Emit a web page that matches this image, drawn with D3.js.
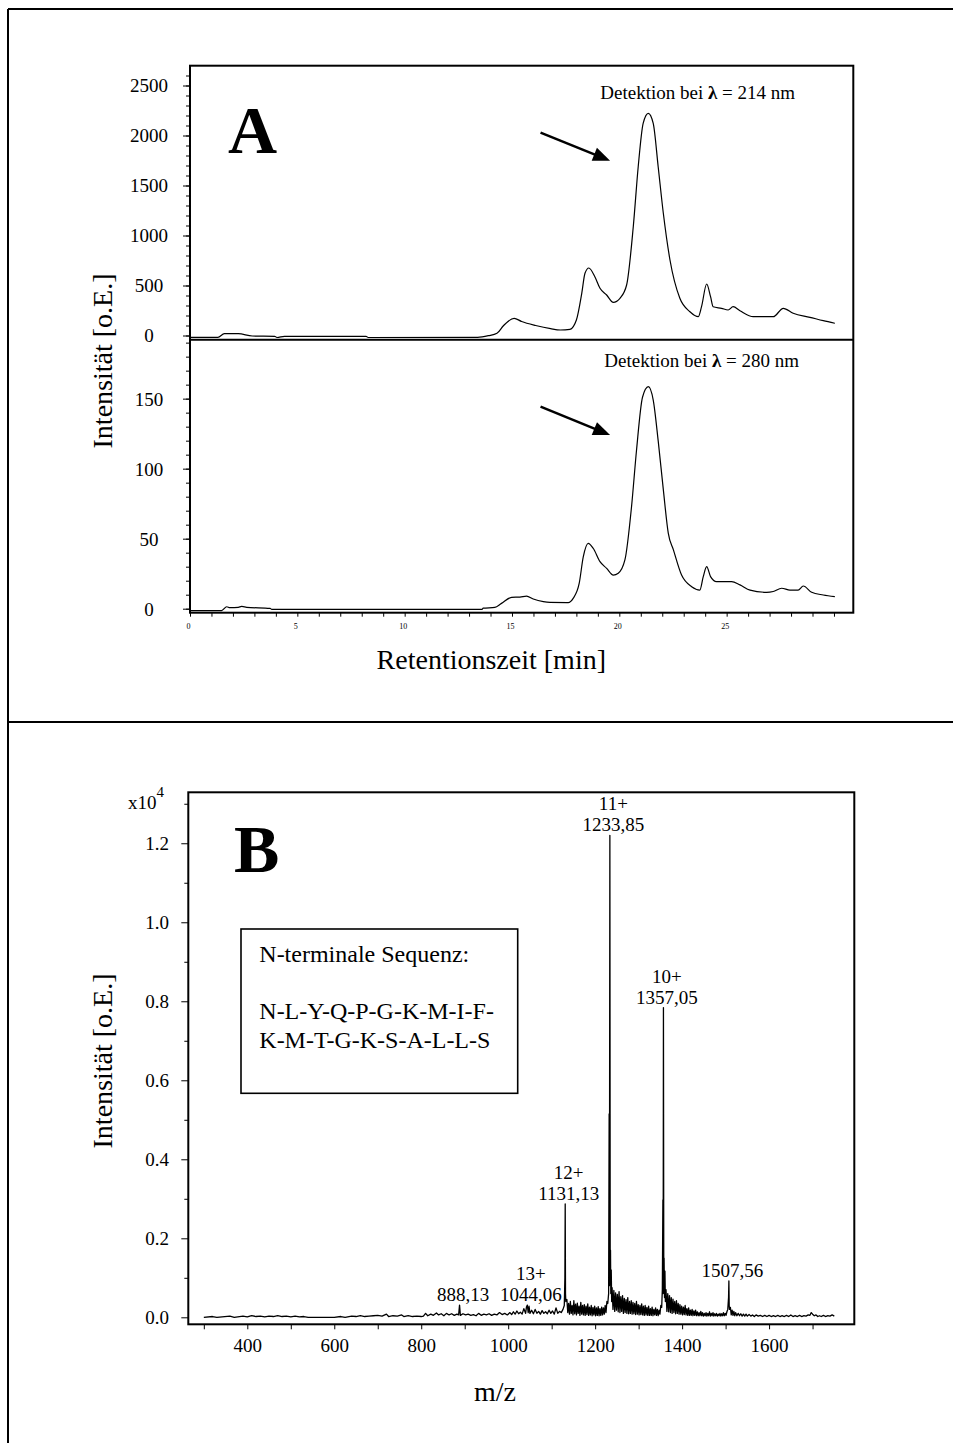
<!DOCTYPE html>
<html>
<head>
<meta charset="utf-8">
<script src="https://cdn.jsdelivr.net/npm/d3@7"></script>
<style>
body { margin: 0; background: #fff; }
svg { display: block; font-family: "Liberation Serif", "Times New Roman", serif; }
</style>
</head>
<body>
<svg id="chart" width="953" height="1443"></svg>
<script>
// ---- data: HPLC chromatogram (time [min], intensity) ----
const chrom214 = [
  [0.0,-18],[1.3,-18],[1.6,18],[2.25,18],[2.9,-5],[3.95,-8],[4.05,-20],[4.4,-8],[8.2,-8],[8.3,-20],
  [13.4,-18],[13.9,-2],[14.3,22],[14.6,98],[15.1,172],[15.45,140],[16.1,100],[16.8,68],[17.25,55],
  [17.7,62],[18.0,155],[18.25,422],[18.4,622],[18.58,675],[18.86,588],[19.1,472],[19.41,405],
  [19.72,332],[20.03,372],[20.34,505],[20.65,1088],[20.88,1688],[21.11,2122],[21.35,2222],
  [21.58,2122],[21.81,1688],[22.05,1222],[22.36,755],[22.82,372],[23.29,238],[23.68,188],
  [23.83,288],[24.07,515],[24.25,388],[24.37,288],[24.76,272],[25.07,255],[25.3,288],[25.62,248],
  [26.24,188],[27.17,188],[27.64,272],[28.1,222],[28.88,182],[29.5,148],[30.04,122]
];
const chrom280 = [
  [0,-1.4],[1.47,-1.4],[1.71,1.4],[1.86,0.7],[2.25,1],[2.41,1.6],[2.64,1],[3.73,0.2],[3.81,-0.5],
  [13.59,-0.5],[13.66,0.4],[14.2,0.9],[14.51,3.8],[14.98,8.1],[15.37,8.3],[15.68,9],[15.99,6.9],
  [16.46,5],[16.77,4.5],[17.62,4.4],[17.85,7.4],[18.13,18],[18.32,37],[18.55,46.7],[18.79,43],
  [19.1,33.6],[19.41,28.8],[19.72,24],[19.95,25.3],[20.26,34.8],[20.57,73],[20.8,113],[21.08,151],
  [21.35,158.6],[21.58,149],[21.81,120],[22.05,85],[22.28,54],[22.52,42],[22.9,24],[23.37,15.7],
  [23.75,13.3],[23.91,22.9],[24.07,30],[24.25,22.9],[24.53,19.3],[25.23,19.3],[25.62,17],
  [26.09,13.3],[26.86,11.7],[27.17,12.3],[27.56,14.6],[27.95,13.3],[28.33,13.3],[28.57,16.2],
  [28.96,11.7],[29.5,9.8],[30.04,8.6]
];
// arrows pointing at the main peak: [start, end] in (min, intensity)
const arrow214 = [[16.33, 2028], [19.57, 1748]];
const arrow280 = [[16.33, 144.3], [19.57, 124]];

// ---- data: ESI mass spectrum (m/z, intensity x10^4) ----
const msLow = [
  [300,0],[320,0.002],[330,0],[360,0.003],[370,0],[390,0.003],[400,0.001],[410,0.004],[420,0.002],
  [430,0.003],[440,0.001],[450,0.003],[460,0.002],[470,0.004],[480,0.002],[490,0.003],[500,0.001],
  [510,0.003],[520,0.001],[530,0.002],[540,0],[600,0],[615,0.002],[625,0],[640,0.003],[650,0.002],
  [660,0.004],[670,0.002],[680,0.003],[690,0.004],[700,0.005],[710,0.003],[720,0.008],[725,0.002],
  [735,0.004],[745,0.003],[755,0.006],[760,0.002],[770,0.004],[780,0.002],[790,0.003],[800,0.002]
];
const msMid = [
  [805,0.003],[810,0.010],[815,0.004],[822,0.008],[828,0.005],[835,0.011],[840,0.006],[846,0.009],
  [852,0.004],[858,0.010],[864,0.006],[870,0.009],[876,0.005],[882,0.008],[886,0.006],[888.13,0.031],
  [890,0.005],[896,0.009],[902,0.006],[908,0.008],[914,0.005],[920,0.007],[926,0.004],[932,0.010],
  [938,0.005],[944,0.008],[950,0.006],[956,0.009],[962,0.005],[968,0.008],[974,0.006],[980,0.012],
  [986,0.007],[992,0.010],[998,0.006],[1004,0.012],[1008,0.007],[1012,0.014],[1016,0.008],
  [1020,0.016],[1024,0.009],[1028,0.013],[1032,0.008],[1036,0.022],[1040,0.010],[1042,0.026],
  [1044.06,0.031],[1046,0.012],[1048,0.028],[1050,0.010],[1054,0.018],[1058,0.009],[1062,0.020],
  [1066,0.010],[1070,0.015],[1074,0.008],[1078,0.017],[1082,0.010],[1086,0.014],[1090,0.009],
  [1094,0.018],[1098,0.010],[1102,0.016],[1106,0.008],[1110,0.024],[1114,0.010],[1118,0.015],
  [1122,0.012],[1126,0.020],[1129,0.030]
];
const msPeak12 = [[1130.4,0.10],[1131.13,0.287],[1131.8,0.06],[1132.5,0.04]];
const msBand1 = [
  [1135,0.045],[1137,0.012],[1139,0.035],[1141,0.008],[1143,0.040],[1145,0.010],[1147,0.030],
  [1149,0.006],[1151,0.042],[1153,0.009],[1155,0.033],[1157,0.006],[1159,0.036],[1161,0.010],
  [1163,0.028],[1165,0.005],[1167,0.038],[1169,0.008],[1171,0.030],[1173,0.006],[1175,0.032],
  [1177,0.005],[1179,0.028],[1181,0.007],[1183,0.034],[1185,0.005],[1187,0.026],[1189,0.006],
  [1191,0.030],[1193,0.004],[1195,0.025],[1197,0.006],[1199,0.028],[1201,0.004],[1203,0.024],
  [1205,0.005],[1207,0.027],[1209,0.004],[1211,0.022],[1213,0.005],[1215,0.026],[1217,0.006],
  [1219,0.024],[1221,0.008],[1223,0.030],[1225,0.012],[1227,0.040],[1229,0.035],[1231,0.06]
];
const msPeak11 = [[1232.2,0.515],[1232.8,0.08],[1233.85,1.22],[1234.6,0.15],[1235.3,0.17],[1236,0.06],[1237,0.12],[1238,0.04]];
const msBand2 = [
  [1239,0.075],[1241,0.02],[1243,0.068],[1245,0.015],[1247,0.062],[1249,0.018],[1251,0.058],
  [1253,0.014],[1255,0.065],[1257,0.012],[1259,0.052],[1261,0.015],[1263,0.055],[1265,0.010],
  [1267,0.048],[1269,0.012],[1271,0.045],[1273,0.010],[1275,0.050],[1277,0.009],[1279,0.040],
  [1281,0.010],[1283,0.042],[1285,0.008],[1287,0.038],[1289,0.009],[1291,0.035],[1293,0.007],
  [1295,0.040],[1297,0.008],[1299,0.032],[1301,0.006],[1303,0.030],[1305,0.007],[1307,0.034],
  [1309,0.006],[1311,0.028],[1313,0.005],[1315,0.030],[1317,0.006],[1319,0.025],[1321,0.005],
  [1323,0.028],[1325,0.005],[1327,0.022],[1329,0.005],[1331,0.026],[1333,0.004],[1335,0.020],
  [1337,0.006],[1339,0.024],[1341,0.005],[1343,0.020],[1345,0.004],[1347,0.018],[1349,0.008],
  [1351,0.030],[1353,0.025],[1354.5,0.07]
];
const msPeak10 = [[1355.8,0.297],[1356.4,0.06],[1357.05,0.784],[1357.8,0.12],[1358.5,0.15],[1359.5,0.05],[1360.5,0.117],[1361.5,0.04]];
const msBand3 = [
  [1363,0.07],[1365,0.015],[1367,0.060],[1369,0.014],[1371,0.055],[1373,0.012],[1375,0.050],
  [1377,0.010],[1379,0.046],[1381,0.012],[1383,0.040],[1385,0.009],[1387,0.042],[1389,0.010],
  [1391,0.035],[1393,0.008],[1395,0.032],[1397,0.008],[1399,0.028],[1401,0.006],[1403,0.026],
  [1405,0.007],[1407,0.030],[1409,0.006],[1411,0.022],[1413,0.005],[1415,0.024],[1417,0.005],
  [1419,0.018],[1421,0.005],[1423,0.020],[1425,0.004],[1427,0.016],[1429,0.005],[1431,0.018],
  [1433,0.004],[1435,0.014],[1437,0.004],[1439,0.012],[1441,0.004],[1443,0.015],[1445,0.004],
  [1447,0.012],[1449,0.003],[1451,0.010],[1453,0.004],[1455,0.012],[1457,0.003],[1459,0.010],
  [1461,0.004],[1463,0.014],[1465,0.003],[1467,0.010],[1469,0.004],[1471,0.012],[1473,0.003],
  [1475,0.009],[1477,0.004],[1479,0.010],[1481,0.003],[1483,0.008],[1485,0.004],[1487,0.010],
  [1489,0.003],[1491,0.009],[1493,0.004],[1495,0.012],[1497,0.004],[1499,0.010],[1501,0.005],
  [1503,0.014],[1505,0.02]
];
const msPeak1507 = [[1506.8,0.05],[1507.56,0.092],[1508.3,0.03],[1509,0.02]];
const msHigh = [
  [1511,0.025],[1513,0.006],[1515,0.018],[1517,0.005],[1519,0.015],[1521,0.004],[1523,0.012],
  [1526,0.004],[1529,0.010],[1532,0.004],[1535,0.009],[1538,0.003],[1541,0.008],[1544,0.003],
  [1547,0.008],[1550,0.003],[1554,0.007],[1558,0.003],[1562,0.006],[1566,0.002],[1570,0.006],
  [1575,0.003],[1580,0.005],[1585,0.002],[1590,0.005],[1595,0.002],[1600,0.005],[1605,0.002],
  [1610,0.004],[1615,0.002],[1620,0.005],[1625,0.002],[1630,0.004],[1635,0.002],[1640,0.005],
  [1645,0.002],[1650,0.006],[1655,0.002],[1660,0.004],[1665,0.002],[1670,0.005],[1675,0.002],
  [1680,0.004],[1685,0.003],[1690,0.006],[1694,0.005],[1697,0.012],[1700,0.008],[1704,0.004],
  [1708,0.006],[1712,0.002],[1716,0.004],[1720,0.002],[1725,0.005],[1730,0.002],[1735,0.004],
  [1740,0.003],[1745,0.006],[1750,0.003]
];
// labelled peaks
const peakMz = [888.13, 1044.06, 1131.13, 1233.85, 1357.05, 1507.56];
const peakCharge = ["", "13+", "12+", "11+", "10+", ""];
const peakTop = [0.031, 0.031, 0.287, 1.22, 0.784, 0.092];
const sequenceLines = ["N-terminale Sequenz:", "", "N-L-Y-Q-P-G-K-M-I-F-", "K-M-T-G-K-S-A-L-L-S"];

// ---- tick values ----
const ticksA214 = [0, 500, 1000, 1500, 2000, 2500];
const minorA214 = d3.range(0, 2601, 100);
const ticksA280 = [0, 50, 100, 150];
const minorA280 = d3.range(0, 191, 10);
const ticksTime = [0, 5, 10, 15, 20, 25];
const minorTime = d3.range(0, 31, 1);
const ticksB = [0, 0.2, 0.4, 0.6, 0.8, 1.0, 1.2];
const minorB = [0.1, 0.3, 0.5, 0.7, 0.9, 1.1, 1.3];
const ticksMz = [400, 600, 800, 1000, 1200, 1400, 1600];
const minorMz = [300, 500, 700, 900, 1100, 1300, 1500, 1700];

const svg = d3.select("#chart");
const FONT = "Liberation Serif, Times New Roman, serif";

// ---- outer frame of the figure ----
svg.append("g")
  .attr("stroke", "#000").attr("stroke-width", 2)
  .call(g => {
    g.append("line").attr("x1", 8).attr("x2", 953).attr("y1", 9).attr("y2", 9);
    g.append("line").attr("x1", 8).attr("x2", 8).attr("y1", 9).attr("y2", 1443);
    g.append("line").attr("x1", 8).attr("x2", 953).attr("y1", 722).attr("y2", 722);
  });

// ---- scales ----
const xA = d3.scaleLinear().domain([0, 30.9]).range([190, 853.3]);
const yA214 = d3.scaleLinear().domain([-42, 2698]).range([339.7, 65.7]);
const yA280 = d3.scaleLinear().domain([-2.86, 192.1]).range([612.7, 339.7]);
const xB = d3.scaleLinear().domain([264.3, 1796]).range([188.3, 854.3]);
const yB = d3.scaleLinear().domain([-0.0177, 1.329]).range([1324.3, 792.3]);

function styleAxis(g) {
  g.select(".domain").remove();
  g.selectAll(".tick line").attr("stroke", "#000").attr("stroke-width", 1);
  g.selectAll("text").attr("fill", "#000").attr("font-family", FONT);
}

function leftAxis(scale, major, minor, fmt, labelX, anchor) {
  const x0 = scale === yB ? xB.range()[0] : xA.range()[0];
  svg.append("g").attr("transform", `translate(${x0},0)`)
    .call(d3.axisLeft(scale).tickValues(minor).tickSize(4).tickFormat(""))
    .call(styleAxis);
  svg.append("g").attr("transform", `translate(${x0},0)`)
    .call(d3.axisLeft(scale).tickValues(major).tickSize(7).tickFormat(fmt))
    .call(styleAxis)
    .call(g => g.selectAll("text")
      .attr("x", labelX - x0).attr("dy", "0.34em")
      .attr("text-anchor", anchor).attr("font-size", 19));
}

// ---- panel A ----
leftAxis(yA214, ticksA214, minorA214, d3.format("d"), 149, "middle");
leftAxis(yA280, ticksA280, minorA280, d3.format("d"), 149, "middle");

svg.append("g").attr("transform", `translate(0,${yA280.range()[0]})`)
  .call(d3.axisBottom(xA).tickValues(minorTime).tickSize(4)
    .tickFormat(d => ticksTime.includes(d) ? d : ""))
  .call(styleAxis)
  .call(g => g.selectAll("text").attr("y", 16).attr("dy", 0).attr("dx", -2).attr("font-size", 8));

const lineA = (y) => d3.line().x(d => xA(d[0])).y(d => y(d[1])).curve(d3.curveMonotoneX);
svg.append("path").datum(chrom214).attr("d", lineA(yA214))
  .attr("fill", "none").attr("stroke", "#000").attr("stroke-width", 1.2);
svg.append("path").datum(chrom280).attr("d", lineA(yA280))
  .attr("fill", "none").attr("stroke", "#000").attr("stroke-width", 1.2);

// frames of panel A
svg.append("rect")
  .attr("x", xA.range()[0]).attr("y", yA214.range()[1])
  .attr("width", xA.range()[1] - xA.range()[0])
  .attr("height", yA280.range()[0] - yA214.range()[1])
  .attr("fill", "none").attr("stroke", "#000").attr("stroke-width", 2);
svg.append("line")
  .attr("x1", xA.range()[0]).attr("x2", xA.range()[1])
  .attr("y1", yA214.range()[0]).attr("y2", yA214.range()[0])
  .attr("stroke", "#000").attr("stroke-width", 2);

function arrow(pts, y) {
  const [x1, y1] = [xA(pts[0][0]), y(pts[0][1])];
  const [x2, y2] = [xA(pts[1][0]), y(pts[1][1])];
  const len = Math.hypot(x2 - x1, y2 - y1);
  const ux = (x2 - x1) / len, uy = (y2 - y1) / len;
  const head = 17, half = 7;
  const bx = x2 - ux * head, by = y2 - uy * head;
  svg.append("line").attr("x1", x1).attr("y1", y1).attr("x2", bx + ux * 2).attr("y2", by + uy * 2)
    .attr("stroke", "#000").attr("stroke-width", 2.5);
  svg.append("path")
    .attr("d", `M${x2},${y2}L${bx - uy * half},${by + ux * half}L${bx + uy * half},${by - ux * half}Z`)
    .attr("fill", "#000");
}
arrow(arrow214, yA214);
arrow(arrow280, yA280);

function detLabel(x, y, nm) {
  const t = svg.append("text").attr("x", x).attr("y", y).attr("text-anchor", "middle")
    .attr("font-size", 19).attr("font-family", FONT);
  t.append("tspan").text("Detektion bei ");
  t.append("tspan").attr("font-weight", "bold").text("λ");
  t.append("tspan").text(" = " + nm + " nm");
}
detLabel(697.7, 99.3, 214);
detLabel(701.7, 366.7, 280);

svg.append("text").attr("x", 228).attr("y", 153.3)
  .attr("font-size", 68).attr("font-weight", "bold").attr("font-family", FONT).text("A");

svg.append("text")
  .attr("transform", "translate(112,361) rotate(-90)")
  .attr("text-anchor", "middle").attr("font-size", 28).attr("font-family", FONT)
  .text("Intensität [o.E.]");
svg.append("text").attr("x", 491.3).attr("y", 669.3)
  .attr("text-anchor", "middle").attr("font-size", 28).attr("font-family", FONT)
  .text("Retentionszeit [min]");

// ---- panel B ----
leftAxis(yB, ticksB, minorB, d3.format(".1f"), 169, "end");

svg.append("g").attr("transform", `translate(0,${yB.range()[0]})`)
  .call(d3.axisBottom(xB).tickValues(minorMz).tickSize(5).tickFormat(""))
  .call(styleAxis);
svg.append("g").attr("transform", `translate(0,${yB.range()[0]})`)
  .call(d3.axisBottom(xB).tickValues(ticksMz).tickSize(5).tickFormat(d3.format("d")))
  .call(styleAxis)
  .call(g => g.selectAll("text").attr("y", 27.4).attr("dy", 0).attr("font-size", 19));

const spectrum = [].concat(msLow, msMid, msPeak12, msBand1, msPeak11, msBand2,
  msPeak10, msBand3, msPeak1507, msHigh);
svg.append("path").datum(spectrum)
  .attr("d", d3.line().x(d => xB(d[0])).y(d => yB(d[1])))
  .attr("fill", "none").attr("stroke", "#000").attr("stroke-width", 1.3)
  .attr("stroke-linejoin", "round");

svg.append("rect")
  .attr("x", xB.range()[0]).attr("y", yB.range()[1])
  .attr("width", xB.range()[1] - xB.range()[0])
  .attr("height", yB.range()[0] - yB.range()[1])
  .attr("fill", "none").attr("stroke", "#000").attr("stroke-width", 2);

// x10^4 multiplier
const mult = svg.append("text").attr("x", 128).attr("y", 809)
  .attr("font-size", 19).attr("font-family", FONT);
mult.append("tspan").text("x10");
mult.append("tspan").attr("font-size", 15).attr("dy", -12).text("4");

// peak labels
const mzFmt = v => d3.format(".2f")(v).replace(".", ",");
peakMz.forEach((mz, i) => {
  const x = xB(mz) + 3.5, y = yB(peakTop[i]) - 4;
  const g = svg.append("g").attr("font-size", 19).attr("font-family", FONT).attr("text-anchor", "middle");
  g.append("text").attr("x", x).attr("y", y).text(mzFmt(mz));
  if (peakCharge[i]) g.append("text").attr("x", x).attr("y", y - 21).text(peakCharge[i]);
});

// sequence box
svg.append("rect").attr("x", 241).attr("y", 929).attr("width", 276.7).attr("height", 164.3)
  .attr("fill", "#fff").attr("stroke", "#000").attr("stroke-width", 1.6);
const seqY = [961.7, 990, 1019.3, 1048.3];
sequenceLines.forEach((s, i) => {
  svg.append("text").attr("x", 259.3).attr("y", seqY[i])
    .attr("font-size", 24).attr("font-family", FONT).text(s);
});

svg.append("text").attr("x", 234).attr("y", 871.7)
  .attr("font-size", 68).attr("font-weight", "bold").attr("font-family", FONT).text("B");

svg.append("text")
  .attr("transform", "translate(112,1061) rotate(-90)")
  .attr("text-anchor", "middle").attr("font-size", 28).attr("font-family", FONT)
  .text("Intensität [o.E.]");
svg.append("text").attr("x", 495).attr("y", 1401)
  .attr("text-anchor", "middle").attr("font-size", 28).attr("font-family", FONT)
  .text("m/z");
</script>
</body>
</html>
